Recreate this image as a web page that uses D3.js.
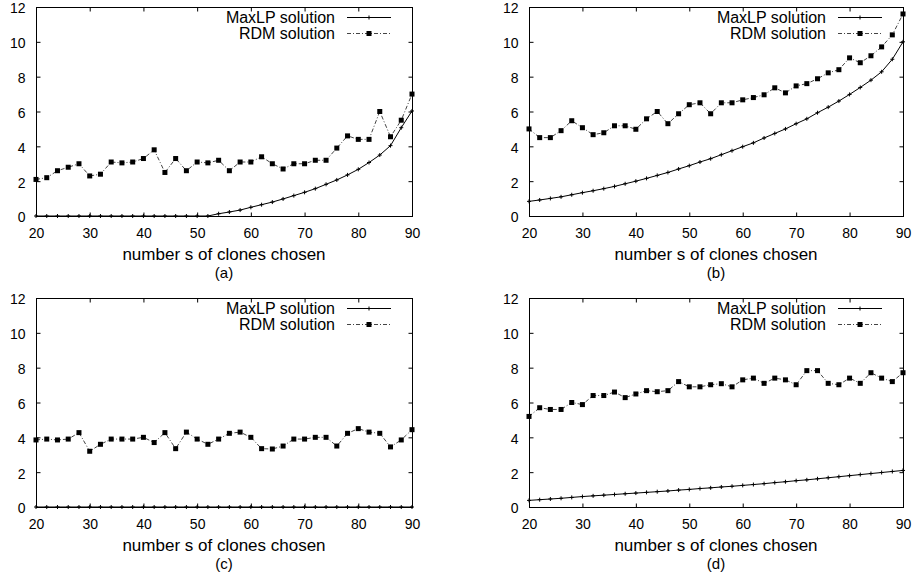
<!DOCTYPE html>
<html>
<head>
<meta charset="utf-8">
<script src="https://cdn.jsdelivr.net/npm/d3@7"></script>
<style>
  html, body { margin: 0; padding: 0; background: #fff; }
  svg { display: block; font-family: "Liberation Sans", Arial, Helvetica, sans-serif; }
</style>
</head>
<body>
<svg id="chart" width="915" height="573"></svg>
<script>
// ---- data ----
const xs = [20,22,24,26,28,30,32,34,36,38,40,42,44,46,48,50,52,54,56,58,60,62,64,66,68,70,72,74,76,78,80,82,84,86,88,90];

const maxlpA = [0,0,0,0,0,0,0,0,0,0,0,0,0,0,0,0,0,0.13,0.23,0.34,0.5,0.65,0.8,0.98,1.17,1.36,1.57,1.82,2.07,2.36,2.68,3.07,3.5,4.04,5.07,6.03];
const rdmA   = [2.1,2.2,2.6,2.8,3.0,2.3,2.4,3.1,3.05,3.1,3.3,3.8,2.5,3.3,2.6,3.1,3.05,3.2,2.6,3.1,3.1,3.4,3.0,2.7,3.0,3.0,3.2,3.2,3.9,4.6,4.4,4.4,6.0,4.55,5.5,7.0];

const maxlpB = [0.84,0.92,1.01,1.1,1.22,1.34,1.45,1.57,1.7,1.85,2.0,2.16,2.33,2.5,2.7,2.89,3.1,3.29,3.52,3.75,3.98,4.2,4.48,4.74,5.0,5.3,5.58,5.93,6.25,6.6,6.98,7.38,7.8,8.28,9.0,10.0];
const rdmB   = [5.0,4.5,4.5,4.9,5.47,5.07,4.67,4.78,5.18,5.18,4.98,5.58,6.0,5.3,5.87,6.39,6.5,5.87,6.5,6.5,6.67,6.8,6.96,7.36,7.07,7.47,7.6,7.88,8.22,8.4,9.08,8.8,9.2,9.71,10.4,11.6];

const maxlpC = [0,0,0,0,0,0,0,0,0,0,0,0,0,0,0,0,0,0,0,0,0,0,0,0,0,0,0,0,0,0,0,0,0,0,0,0];
const rdmC   = [3.85,3.9,3.85,3.9,4.27,3.2,3.6,3.9,3.9,3.9,4.0,3.7,4.27,3.35,4.3,3.9,3.6,3.9,4.23,4.3,4.0,3.35,3.33,3.5,3.9,3.9,4.0,4.0,3.5,4.23,4.5,4.3,4.23,3.45,3.85,4.44];

const maxlpD = [0.38,0.42,0.46,0.5,0.55,0.6,0.64,0.68,0.72,0.76,0.8,0.84,0.88,0.92,0.97,1.01,1.06,1.1,1.15,1.19,1.24,1.29,1.34,1.4,1.45,1.51,1.56,1.62,1.68,1.74,1.8,1.86,1.92,1.98,2.04,2.1];
const rdmD   = [5.2,5.7,5.6,5.6,6.0,5.88,6.4,6.4,6.6,6.28,6.49,6.68,6.62,6.68,7.2,6.9,6.9,7.02,7.08,6.9,7.3,7.4,7.1,7.4,7.3,7.02,7.83,7.83,7.1,7.02,7.4,7.1,7.71,7.4,7.2,7.71];

const xTicks = [20,30,40,50,60,70,80,90];
const yTicks = [0,2,4,6,8,10,12];
const seriesNames = ["MaxLP solution", "RDM solution"];
const panelLabels = ["(a)", "(b)", "(c)", "(d)"];
const xTitle = "number s of clones chosen";

// ---- layout ----
const svg = d3.select("#chart");
svg.append("rect").attr("width", 915).attr("height", 573).attr("fill", "#fff");

const panels = [
  { maxlp: maxlpA, rdm: rdmA, left: 36,  right: 412, top: 7,   bottom: 216, label: panelLabels[0] },
  { maxlp: maxlpB, rdm: rdmB, left: 529, right: 903, top: 7,   bottom: 216, label: panelLabels[1] },
  { maxlp: maxlpC, rdm: rdmC, left: 36,  right: 412, top: 298, bottom: 507, label: panelLabels[2] },
  { maxlp: maxlpD, rdm: rdmD, left: 529, right: 903, top: 298, bottom: 507, label: panelLabels[3] }
];

const RDM_DASH = "4,2,1,2";

function drawPanel(p) {
  const g = svg.append("g");
  const x = d3.scaleLinear().domain([20, 90]).range([p.left, p.right]);
  const y = d3.scaleLinear().domain([0, 12]).range([p.bottom, p.top]);

  const axisStyle = sel => {
    sel.select(".domain").remove();
    sel.selectAll(".tick line").attr("stroke", "#000").attr("stroke-width", 1);
    sel.selectAll(".tick text").attr("fill", "#000").attr("font-size", 14)
       .attr("font-family", '"Liberation Sans", Arial, sans-serif');
  };

  g.append("g").attr("transform", `translate(${p.left + 0.5},0)`)
    .call(d3.axisLeft(y).tickValues(yTicks).tickSize(-4).tickPadding(11).tickFormat(d3.format("d")))
    .call(axisStyle)
    .call(s => s.selectAll(".tick text").attr("dy", "0.42em"));
  g.append("g").attr("transform", `translate(${p.right + 0.5},0)`)
    .call(d3.axisRight(y).tickValues(yTicks).tickSize(-4).tickFormat(""))
    .call(axisStyle);
  g.append("g").attr("transform", `translate(0,${p.bottom + 0.5})`)
    .call(d3.axisBottom(x).tickValues(xTicks).tickSize(-4).tickPadding(12).tickFormat(d3.format("d")))
    .call(axisStyle);
  g.append("g").attr("transform", `translate(0,${p.top + 0.5})`)
    .call(d3.axisTop(x).tickValues(xTicks).tickSize(-4).tickFormat(""))
    .call(axisStyle);

  // border
  g.append("rect")
    .attr("x", p.left + 0.5).attr("y", p.top + 0.5)
    .attr("width", p.right - p.left).attr("height", p.bottom - p.top)
    .attr("fill", "none").attr("stroke", "#000").attr("stroke-width", 1);

  const line = d3.line().x((d, i) => x(xs[i])).y(d => y(d));

  // MaxLP: solid line with + markers
  g.append("path").datum(p.maxlp).attr("d", line)
    .attr("fill", "none").attr("stroke", "#000").attr("stroke-width", 1);
  g.selectAll(".plus").data(p.maxlp).join("path")
    .attr("d", (d, i) => {
      const cx = x(xs[i]), cy = y(d);
      return `M${cx - 2},${cy}H${cx + 2}M${cx},${cy - 2}V${cy + 2}`;
    })
    .attr("stroke", "#000").attr("stroke-width", 1).attr("fill", "none");

  // RDM: dash-dot line with filled squares
  g.append("path").datum(p.rdm).attr("d", line)
    .attr("fill", "none").attr("stroke", "#444").attr("stroke-width", 1)
    .attr("stroke-dasharray", RDM_DASH);
  g.selectAll(".sq").data(p.rdm).join("rect")
    .attr("x", (d, i) => x(xs[i]) - 2.5).attr("y", d => y(d) - 2.5)
    .attr("width", 5).attr("height", 5).attr("fill", "#000");

  // legend
  const lx1 = p.right - 65, lx2 = p.right - 21, lmid = (lx1 + lx2) / 2;
  const rows = [p.top + 10, p.top + 26];
  seriesNames.forEach((name, k) => {
    g.append("text").attr("x", p.right - 77).attr("y", rows[k]).attr("dy", "0.35em")
      .attr("text-anchor", "end").attr("font-size", 16).attr("fill", "#000").text(name);
    const ly = rows[k] + 0.5;
    if (k === 0) {
      g.append("line").attr("x1", lx1).attr("x2", lx2).attr("y1", ly).attr("y2", ly)
        .attr("stroke", "#000").attr("stroke-width", 1);
      g.append("path").attr("d", `M${lmid - 2},${ly}H${lmid + 2}M${lmid},${ly - 2}V${ly + 2}`)
        .attr("stroke", "#000").attr("stroke-width", 1);
    } else {
      g.append("line").attr("x1", lx1).attr("x2", lx2).attr("y1", ly).attr("y2", ly)
        .attr("stroke", "#444").attr("stroke-width", 1).attr("stroke-dasharray", RDM_DASH);
      g.append("rect").attr("x", lmid - 2.5).attr("y", ly - 2.5).attr("width", 5).attr("height", 5)
        .attr("fill", "#000");
    }
  });

  // axis title and panel label
  const cx = (p.left + p.right) / 2;
  g.append("text").attr("x", cx).attr("y", p.bottom + 44).attr("text-anchor", "middle")
    .attr("font-size", 17).attr("fill", "#000").text(xTitle);
  g.append("text").attr("x", cx).attr("y", p.bottom + 61.5).attr("text-anchor", "middle")
    .attr("font-size", 15).attr("fill", "#000").text(p.label);
}

panels.forEach(drawPanel);
</script>
</body>
</html>
